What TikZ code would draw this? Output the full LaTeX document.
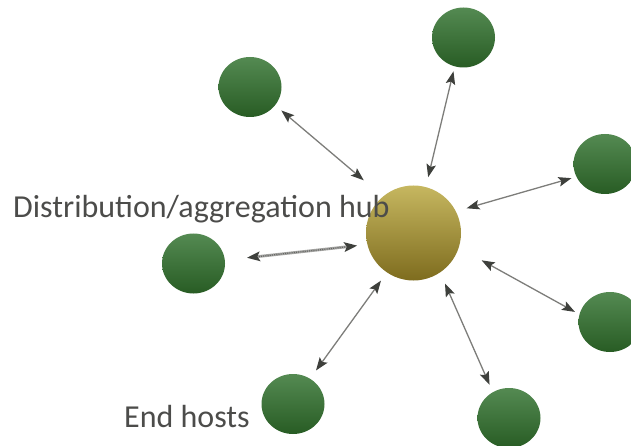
\documentclass[tikz,border=0pt]{standalone}
\usepackage{fontspec}
\setmainfont{Carlito}
\usetikzlibrary{shapes.geometric,arrows.meta}

\definecolor{hostTop}{RGB}{84,138,82}
\definecolor{hostBot}{RGB}{40,92,36}
\definecolor{hubTop}{RGB}{198,183,96}
\definecolor{hubBot}{RGB}{126,108,30}
\definecolor{linkGray}{RGB}{125,125,122}
\definecolor{tipGray}{RGB}{62,64,60}
\definecolor{labelGray}{RGB}{76,76,74}

\tikzset{
  host/.style={ellipse, minimum width=63pt, minimum height=60pt, inner sep=0pt,
    shading=axis, top color=hostTop, bottom color=hostBot, draw=none},
  hubnode/.style={circle, minimum size=95pt, inner sep=0pt,
    shading=axis, top color=hubTop, bottom color=hubBot, draw=none},
  link/.style={draw=linkGray, line width=1.3pt,
    {Stealth[length=13pt,width=9.5pt,inset=2.5pt,color=tipGray]}-{Stealth[length=13pt,width=9.5pt,inset=2.5pt,color=tipGray]}},
  biglabel/.style={anchor=base west, text=labelGray, font=\fontsize{32}{32}\selectfont, inner sep=0pt}
}

\begin{document}
\begin{tikzpicture}[x=1pt,y=-1pt]
  \useasboundingbox (0,0) rectangle (631,446);
  \clip (0,0) rectangle (631,446);

  % hub and end hosts
  \node[hubnode] (hub) at (413.5,233) {};
  \node[host] (h1) at (250,87) {};
  \node[host] (h2) at (463.5,37.5) {};
  \node[host] (h3) at (605,164) {};
  \node[host] (h4) at (193.5,263.5) {};
  \node[host] (h5) at (610,322) {};
  \node[host] (h6) at (293,404) {};
  \node[host] (h7) at (509,418) {};

  % bidirectional links
  \draw[link, shorten <=8pt, shorten >=25pt] (h1.-36) -- (hub.130);
  \draw[link, shorten <=5pt, shorten >=10pt] (h2.-107) -- (hub.75);
  \draw[link, shorten <=5pt, shorten >=11pt] (h3.204) -- (hub.27);
  \draw[link, shorten <=5pt, shorten >=26pt] (h5.166) -- (hub.-18);
  \draw[link, shorten <=10pt, shorten >=10pt] (h6.56) -- (hub.236);
  \draw[link, shorten <=8pt, shorten >=12pt] (h7.122) -- (hub.-56);
  % textured link to the left host
  \draw[link, line width=2.8pt, draw=linkGray!70, shorten <=22pt, shorten >=10pt] (h4.6) -- (hub.194);
  \draw[draw=tipGray!80, line width=1.2pt, dash pattern=on 1pt off 1.2pt, shorten <=34pt, shorten >=22pt] (h4.6) -- (hub.194);

  % labels
  \node[biglabel] (lblhub) at (13,218) {Distribution/aggregation hub};
  \node[biglabel] (lblhost) at (124,427) {End hosts};
\end{tikzpicture}
\end{document}
